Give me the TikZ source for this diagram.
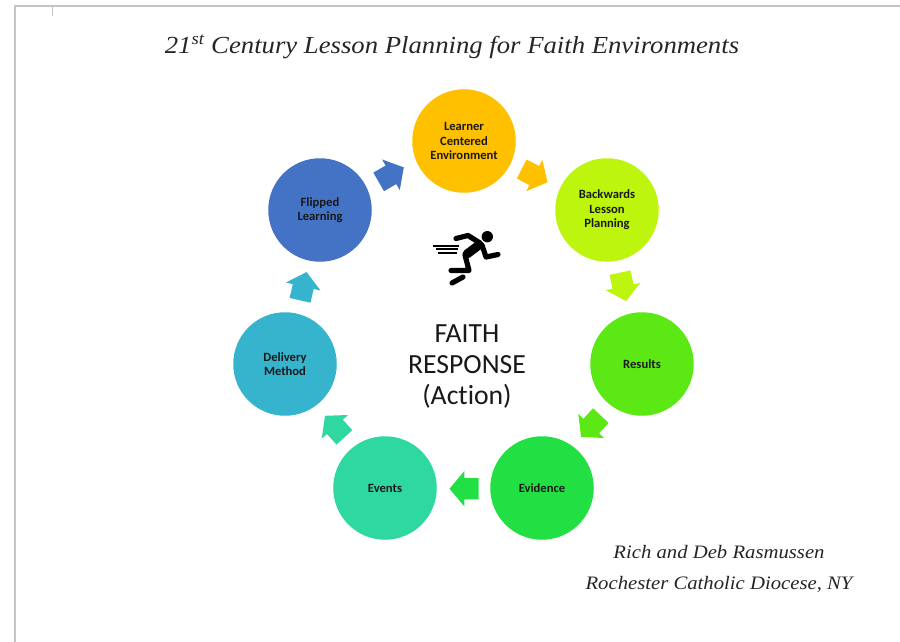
\documentclass[tikz,border=0pt]{standalone}
\usepackage{fontspec}
\newfontfamily\callig[FakeStretch=1.09]{Liberation Serif Italic}
\newfontfamily\carl[Ligatures=NoCommon]{Carlito}
\usetikzlibrary{shapes.arrows}
\definecolor{cOrange}{HTML}{FFC000}
\definecolor{cLime}{HTML}{BDF50E}
\definecolor{cGrass}{HTML}{5CE815}
\definecolor{cGreen}{HTML}{22E043}
\definecolor{cSea}{HTML}{2ED8A0}
\definecolor{cCyan}{HTML}{36B4CE}
\definecolor{cBlue}{HTML}{4472C4}
\definecolor{cFrame}{HTML}{C4C4C4}
\tikzset{
  cnode/.style={circle,minimum size=103.5pt,inner sep=0pt,align=center,
    font=\carl\bfseries\fontsize{12.6}{14.5}\selectfont,text=black!90},
  blockarrow/.style={single arrow,anchor=tail,minimum height=29pt,
    inner sep=0pt,text height=21pt,text depth=0pt,text width=1pt,
    single arrow head extend=7pt,single arrow tip angle=100,
    single arrow head indent=0pt},
  scripted/.style={font=\callig\fontsize{#1}{#1}\selectfont,text=black!85},
  limb/.style={line width=5.2pt,line cap=round,line join=round,black},
  speed/.style={line width=1.6pt,black}
}
\begin{document}
\begin{tikzpicture}[x=1pt,y=-1pt]
\useasboundingbox (0,0) rectangle (900,642);
\fill[white] (0,0) rectangle (900,642);
% page frame
\draw[cFrame,line width=2pt] (15,642) -- (15,6) -- (900,6);
\draw[cFrame,line width=0.8pt] (52,6) -- (52,16);
% title
\node[scripted=24.5] (title) at (452,46.5) {21\textsuperscript{st} Century Lesson Planning for Faith Environments};
% circles
\node[cnode,fill=cOrange] (learner) at (464,141) {Learner\\Centered\\Environment};
\node[cnode,fill=cLime] (back) at (607,210) {Backwards\\Lesson\\Planning};
\node[cnode,fill=cGrass] (results) at (642,364) {Results};
\node[cnode,fill=cGreen] (evidence) at (542,488) {Evidence};
\node[cnode,fill=cSea] (events) at (385,488) {Events};
\node[cnode,fill=cCyan] (delivery) at (285,364) {Delivery\\Method};
\node[cnode,fill=cBlue] (flipped) at (320,210) {Flipped\\Learning};
% block arrows
\node[blockarrow,fill=cOrange,rotate=-27] (a1) at (521.5,169) {};
\node[blockarrow,fill=cLime,rotate=-78] (a2) at (620,272.5) {};
\node[blockarrow,fill=cGrass,rotate=227] (a3) at (601,415.5) {};
\node[blockarrow,fill=cGreen,rotate=180] (a4) at (478.7,488.7) {};
\node[blockarrow,fill=cSea,rotate=132] (a5) at (344.5,437.5) {};
\node[blockarrow,fill=cCyan,rotate=77] (a6) at (300,300.5) {};
\node[blockarrow,fill=cBlue,rotate=30] (a7) at (378.5,182) {};
% runner
\fill[black] (487.3,236.7) circle (5.7pt);
\draw[limb] (456,238.5) -- (468,235.5) -- (480,243);
\draw[line width=9pt,black,line cap=round] (479,245) -- (467,254);
\draw[limb] (482,245) -- (486,257) -- (498,254.5);
\draw[limb] (465,255) -- (469,270.5) -- (451,270.5);
\draw[limb] (463,277) -- (452,283);
\draw[speed] (433,245.7) -- (459,245.7);
\draw[speed] (436,249.2) -- (458,249.2);
\draw[speed] (438,252.7) -- (457,252.7);
% centre text
\node[align=center,font=\carl\fontsize{27.7}{31}\selectfont,text=black!90,inner sep=0pt] (faith) at (467,366.5) {FAITH\\RESPONSE\\(Action)};
% credits
\node[scripted=19] (rich) at (719,552) {Rich and Deb Rasmussen};
\node[scripted=19] (roch) at (719,584) {Rochester Catholic Diocese, NY};
\end{tikzpicture}
\end{document}
